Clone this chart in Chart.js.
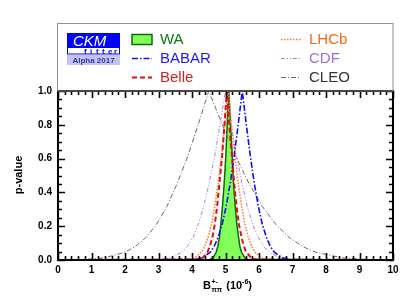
<!DOCTYPE html>
<html>
<head>
<meta charset="utf-8">
<script src="https://cdn.jsdelivr.net/npm/chart.js@4.4.0/dist/chart.umd.min.js"></script>
<style>
  html, body { margin: 0; padding: 0; background: #fff; }
  #wrap { width: 414px; height: 303px; }
</style>
</head>
<body>
<div id="wrap"><canvas id="c" width="414" height="303"></canvas></div>
<script>
// p-value levels at which each curve's crossing positions were read (shared by all curves)
const pLevels = [0, 0.0027, 0.0124, 0.0455, 0.080, 0.134, 0.211, 0.317, 0.453, 0.617, 0.803, 1,
                 0.803, 0.617, 0.453, 0.317, 0.211, 0.134, 0.080, 0.0455, 0.0124, 0.0027, 0];
// x positions (10^-6) where each curve reaches the above p-values
const waX    = [0, 4.53, 4.63, 4.72, 4.77, 4.82, 4.86, 4.91, 4.96, 5.01, 5.05, 5.10,
                5.15, 5.20, 5.24, 5.29, 5.34, 5.39, 5.43, 5.48, 5.58, 5.67, 10];
const babarX = [0, 4.06, 4.30, 4.54, 4.66, 4.78, 4.90, 5.02, 5.14, 5.26, 5.38, 5.50,
                5.62, 5.74, 5.86, 5.98, 6.10, 6.22, 6.34, 6.46, 6.70, 6.94, 10];
const belleX = [0, 4.17, 4.32, 4.46, 4.53, 4.61, 4.68, 4.75, 4.82, 4.90, 4.97, 5.04,
                5.11, 5.19, 5.26, 5.33, 5.40, 5.48, 5.55, 5.62, 5.77, 5.91, 10];
const lhcbX  = [0, 3.88, 4.08, 4.28, 4.38, 4.48, 4.58, 4.68, 4.78, 4.88, 4.98, 5.08,
                5.18, 5.28, 5.38, 5.48, 5.58, 5.68, 5.78, 5.88, 6.08, 6.28, 10];
const cdfX   = [0, 3.05, 3.38, 3.70, 3.86, 4.03, 4.19, 4.35, 4.51, 4.68, 4.84, 5.00,
                5.16, 5.33, 5.49, 5.65, 5.81, 5.98, 6.14, 6.30, 6.63, 6.95, 10];
const cleoX  = [0, 0.75, 1.38, 2.00, 2.31, 2.63, 2.94, 3.25, 3.56, 3.88, 4.19, 4.50,
                4.90, 5.30, 5.70, 6.10, 6.50, 6.90, 7.30, 7.70, 8.50, 9.30, 10];

const xTicks = [0, 1, 2, 3, 4, 5, 6, 7, 8, 9, 10];
const yTicks = [0.0, 0.2, 0.4, 0.6, 0.8, 1.0];
const seriesNames = ['WA', 'BABAR', 'Belle', 'LHCb', 'CDF', 'CLEO'];

function pts(xs) { return xs.map((x, i) => ({ x: x, y: pLevels[i] })); }

const FONT = '"Liberation Sans", Arial, Helvetica, sans-serif';

const datasets = [
  { label: seriesNames[0], data: pts(waX), borderColor: '#0b6b0b', borderWidth: 1.5,
    backgroundColor: '#84ff5a', fill: 'origin', order: 10, textColor: '#0f7a0f' },
  { label: seriesNames[1], data: pts(babarX), borderColor: '#1010f0', borderWidth: 1.6,
    borderDash: [6, 2, 1.5, 2], fill: false, order: 6, textColor: '#1a1af5' },
  { label: seriesNames[2], data: pts(belleX), borderColor: '#e01010', borderWidth: 2,
    borderDash: [5, 3], fill: false, order: 5, textColor: '#d82020' },
  { label: seriesNames[3], data: pts(lhcbX), borderColor: '#ff7a2a', borderWidth: 1.5,
    borderDash: [1.5, 1.5], fill: false, order: 7, textColor: '#f86a14' },
  { label: seriesNames[4], data: pts(cdfX), borderColor: '#a77ae6', borderWidth: 1,
    borderDash: [4, 2, 1, 2, 1, 2], fill: false, order: 8, textColor: '#a06fdc' },
  { label: seriesNames[5], data: pts(cleoX), borderColor: '#6a6a6a', borderWidth: 1,
    borderDash: [5, 2, 1, 2], fill: false, order: 9, textColor: '#333333' }
];
datasets.forEach(d => { d.pointRadius = 0; d.tension = 0; });

const decor = {
  id: 'decor',
  afterDatasetsDraw(chart) {
    const ctx = chart.ctx;
    const a = chart.chartArea;
    const xs = chart.scales.x, ys = chart.scales.y;
    ctx.save();
    // ticks (inward, on all four sides)
    ctx.strokeStyle = '#000';
    ctx.lineWidth = 1.6;
    ctx.setLineDash([]);
    ctx.beginPath();
    for (let i = 0; i <= 50; i++) {
      const v = i * 0.2;
      const px = Math.round(xs.getPixelForValue(v)) + 0.5;
      const len = (i % 5 === 0) ? 7 : 4;
      ctx.moveTo(px, a.bottom); ctx.lineTo(px, a.bottom - len);
      ctx.moveTo(px, a.top); ctx.lineTo(px, a.top + len);
    }
    for (let i = 0; i <= 20; i++) {
      const v = i * 0.05;
      const py = Math.round(ys.getPixelForValue(v)) + 0.5;
      const len = (i % 4 === 0) ? 7 : 4;
      ctx.moveTo(a.left, py); ctx.lineTo(a.left + len, py);
      ctx.moveTo(a.right, py); ctx.lineTo(a.right - len, py);
    }
    ctx.stroke();
    // frame
    ctx.lineWidth = 2;
    ctx.strokeRect(a.left, a.top, a.right - a.left, a.bottom - a.top);

    // legend box
    ctx.lineWidth = 1;
    ctx.strokeStyle = '#909090';
    ctx.strokeRect(57.5, 23.5, 335.5, 67.5);

    // CKM fitter logo
    ctx.fillStyle = '#0000ff';
    ctx.fillRect(67, 33, 53, 14);
    ctx.fillStyle = '#ffffff';
    ctx.font = 'italic 15px ' + FONT;
    ctx.textBaseline = 'alphabetic';
    ctx.textAlign = 'left';
    ctx.fillText('CKM', 73, 45.5);
    ctx.fillStyle = '#ffffff';
    ctx.fillRect(67, 47, 53, 7);
    ctx.strokeStyle = '#0000ff';
    ctx.lineWidth = 1;
    ctx.strokeRect(67.5, 47.5, 52, 6.5);
    ctx.fillStyle = '#0000ff';
    ctx.font = 'bold 8px ' + FONT;
    const ft = 'fitter';
    for (let i = 0; i < ft.length; i++) ctx.fillText(ft[i], 84 + i * 6, 54);
    ctx.fillStyle = '#c4c4f2';
    ctx.fillRect(67, 55, 53, 10);
    ctx.fillStyle = '#3434a8';
    ctx.font = 'bold 8px ' + FONT;
    ctx.textAlign = 'center';
    ctx.fillText('Alpha 2017', 93.5, 63);

    // legend entries
    const rowsY = [39.5, 58.5, 77.5];
    const cols = [{ sx: 132, tx: 160 }, { sx: 281, tx: 309 }];
    chart.data.datasets.forEach((d, i) => {
      const col = cols[Math.floor(i / 3)];
      const yy = rowsY[i % 3];
      ctx.save();
      if (d.fill) {
        ctx.fillStyle = d.backgroundColor;
        ctx.fillRect(col.sx, yy - 5, 20, 10);
        ctx.strokeStyle = d.borderColor;
        ctx.lineWidth = 1.5;
        ctx.strokeRect(col.sx, yy - 5, 20, 10);
      } else {
        ctx.strokeStyle = d.borderColor;
        ctx.lineWidth = d.borderWidth;
        ctx.setLineDash(d.borderDash || []);
        ctx.beginPath();
        ctx.moveTo(col.sx, yy); ctx.lineTo(col.sx + 20, yy);
        ctx.stroke();
      }
      ctx.restore();
      ctx.fillStyle = d.textColor;
      ctx.font = '15px ' + FONT;
      ctx.textAlign = 'left';
      ctx.textBaseline = 'middle';
      ctx.fillText(d.label, col.tx, yy + 0.5);
    });

    // axis titles
    ctx.fillStyle = '#000';
    ctx.textBaseline = 'alphabetic';
    ctx.save();
    ctx.translate(22, 175);
    ctx.rotate(-Math.PI / 2);
    ctx.font = 'bold 11px ' + FONT;
    ctx.textAlign = 'center';
    ctx.fillText('p-value', 0, 0);
    ctx.restore();

    ctx.textAlign = 'left';
    let x = 203, base = 289;
    ctx.font = 'bold 11px ' + FONT;
    ctx.fillText('B', x, base); x += ctx.measureText('B').width;
    ctx.font = 'bold 7px ' + FONT;
    ctx.fillText('+-', x + 0.5, base - 5);
    ctx.fillText('\u03c0\u03c0', x + 0.5, base + 3);
    x += ctx.measureText('\u03c0\u03c0').width + 1.5;
    ctx.font = 'bold 11px ' + FONT;
    ctx.fillText(' (10', x, base); x += ctx.measureText(' (10').width;
    ctx.font = 'bold 7px ' + FONT;
    ctx.fillText('-6', x, base - 5); x += ctx.measureText('-6').width;
    ctx.font = 'bold 11px ' + FONT;
    ctx.fillText(')', x, base);
    ctx.restore();
  }
};

new Chart(document.getElementById('c'), {
  type: 'line',
  data: { datasets: datasets },
  options: {
    responsive: false,
    animation: false,
    devicePixelRatio: 1,
    layout: { padding: { top: 91, right: 21, left: 0, bottom: 0 } },
    plugins: { legend: { display: false }, tooltip: { enabled: false } },
    scales: {
      x: {
        type: 'linear', min: 0, max: 10,
        afterFit(s) { s.height = 43; },
        afterBuildTicks(s) { s.ticks = xTicks.map(v => ({ value: v })); },
        grid: { display: false, drawTicks: false },
        border: { display: false },
        ticks: { autoSkip: false, maxRotation: 0, padding: 4, color: '#000',
                 font: { family: FONT, size: 10, weight: 'bold' },
                 callback: v => String(v) }
      },
      y: {
        type: 'linear', min: 0, max: 1,
        afterFit(s) { s.width = 58; },
        afterBuildTicks(s) { s.ticks = yTicks.map(v => ({ value: v })); },
        grid: { display: false, drawTicks: false },
        border: { display: false },
        ticks: { autoSkip: false, padding: 6, color: '#000',
                 font: { family: FONT, size: 10, weight: 'bold' },
                 callback: v => Number(v).toFixed(1) }
      }
    }
  },
  plugins: [decor]
});
</script>
</body>
</html>
